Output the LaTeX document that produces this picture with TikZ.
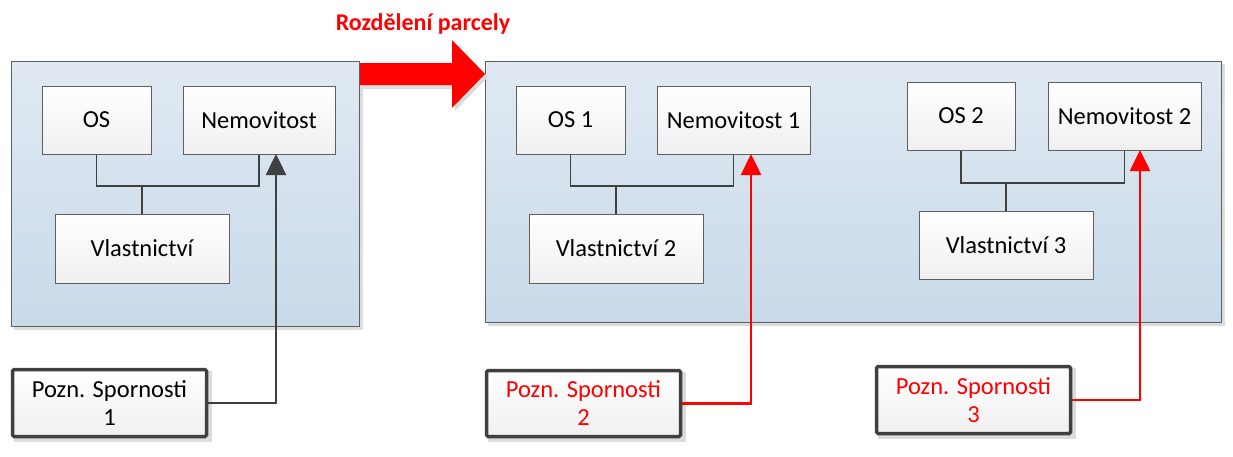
\documentclass[tikz,border=0pt]{standalone}
\usepackage{fontspec}
\setmainfont{Carlito}
\usetikzlibrary{arrows.meta}
\definecolor{cbtop}{HTML}{E0E9F2}
\definecolor{cbbot}{HTML}{C8DAE9}
\definecolor{edge}{HTML}{5F5F5F}
\definecolor{dark}{HTML}{404040}
\definecolor{shad}{HTML}{DCDCDC}
\definecolor{myred}{HTML}{FF0000}
\tikzset{
  container/.style={draw=edge, line width=1pt, top color=cbtop, bottom color=cbbot, inner sep=0pt},
  ebox/.style={draw=edge, line width=1pt, top color=white, bottom color=black!6, inner sep=0pt, font=\fontsize{24.5}{28}\selectfont, text=black},
  pbox/.style={draw=dark, line width=3.5pt, rounded corners=1.5pt, top color=white, bottom color=black!6, inner sep=0pt, align=center, font=\fontsize{24.5}{28}\selectfont},
  link/.style={draw=dark, line width=1.5pt},
  blackarrow/.style={draw=dark, line width=2.5pt, -{Triangle[width=20pt,length=21pt]}},
  redarrow/.style={draw=myred, line width=2.5pt, -{Triangle[width=20pt,length=21pt]}},
}
\newcommand{\shadowbox}[4]{\fill[shad] (#1+3,#2+3) rectangle (#3+4,#4+4);}
\begin{document}
\begin{tikzpicture}[x=1pt,y=-1pt]
\useasboundingbox (0,0) rectangle (1233,456);
% shadows
\shadowbox{11}{61}{359}{326}
\shadowbox{485}{61}{1221}{322}
\shadowbox{42}{86}{151}{154}
\shadowbox{183}{86}{335}{154}
\shadowbox{55}{214}{229}{283}
\shadowbox{516}{86}{625}{154}
\shadowbox{657}{86}{810}{154}
\shadowbox{529}{214}{703}{283}
\shadowbox{907}{82}{1015}{150}
\shadowbox{1048}{82}{1201}{150}
\shadowbox{919}{211}{1093}{279}
\shadowbox{11}{368}{208}{438}
\shadowbox{485}{369}{682}{438}
\shadowbox{875}{365}{1072}{435}
% containers
\node[container, minimum width=348pt, minimum height=265pt] (c1) at (185,193.5) {};
\node[container, minimum width=736pt, minimum height=261pt] (c2) at (853,191.5) {};
% big red arrow
\fill[shad] (363,67) -- (455,67) -- (455,43) -- (488,77) -- (455,111) -- (455,89) -- (363,89) -- cycle;
\fill[myred] (360,63) -- (452,63) -- (452,40) -- (485,74) -- (452,108) -- (452,85) -- (360,85) -- cycle;
\node[text=myred, font=\fontsize{24}{28}\selectfont\bfseries] (title) at (423,24) {Rozdělení parcely};
% left group
\node[ebox, minimum width=109pt, minimum height=68pt] (os) at (96.5,120) {OS};
\node[ebox, minimum width=152pt, minimum height=68pt] (nem) at (259,120) {Nemovitost};
\node[ebox, minimum width=174pt, minimum height=69pt] (vl) at (142,248.5) {Vlastnictví};
\coordinate (j1) at (142,186);
\draw[link] (os.south) |- (j1) -| (nem.south);
\draw[link] (vl.north) -- (j1);
% right group 1
\node[ebox, minimum width=109pt, minimum height=68pt] (os1) at (570.5,120) {OS 1};
\node[ebox, minimum width=153pt, minimum height=68pt] (nem1) at (733.5,120) {Nemovitost 1};
\node[ebox, minimum width=174pt, minimum height=69pt] (vl2) at (616,248.5) {Vlastnictví 2};
\coordinate (j2) at (616,186);
\draw[link] (os1.south) |- (j2) -| (nem1.south);
\draw[link] (vl2.north) -- (j2);
% right group 2
\node[ebox, minimum width=108pt, minimum height=68pt] (os2) at (961,116) {OS 2};
\node[ebox, minimum width=153pt, minimum height=68pt] (nem2) at (1124.5,116) {Nemovitost 2};
\node[ebox, minimum width=174pt, minimum height=68pt] (vl3) at (1006,245) {Vlastnictví 3};
\coordinate (j3) at (1006,183);
\draw[link] (os2.south) |- (j3) -| (nem2.south);
\draw[link] (vl3.north) -- (j3);
% Pozn boxes
\node[pbox, minimum width=194pt, minimum height=67pt, text=black] (pz1) at (109.5,403) {Pozn. Spornosti\\1};
\node[pbox, minimum width=194pt, minimum height=66pt, text=myred] (pz2) at (583.5,403.5) {Pozn. Spornosti\\2};
\node[pbox, minimum width=194pt, minimum height=67pt, text=myred] (pz3) at (973.5,400) {Pozn. Spornosti\\3};
% arrows
\coordinate (t1) at (276,154);
\coordinate (t2) at (751,154);
\coordinate (t3) at (1140,150);
\draw[blackarrow] (pz1.east) -| (t1);
\draw[redarrow] (pz2.east) -| (t2);
\draw[redarrow] (pz3.east) -| (t3);
\end{tikzpicture}
\end{document}
